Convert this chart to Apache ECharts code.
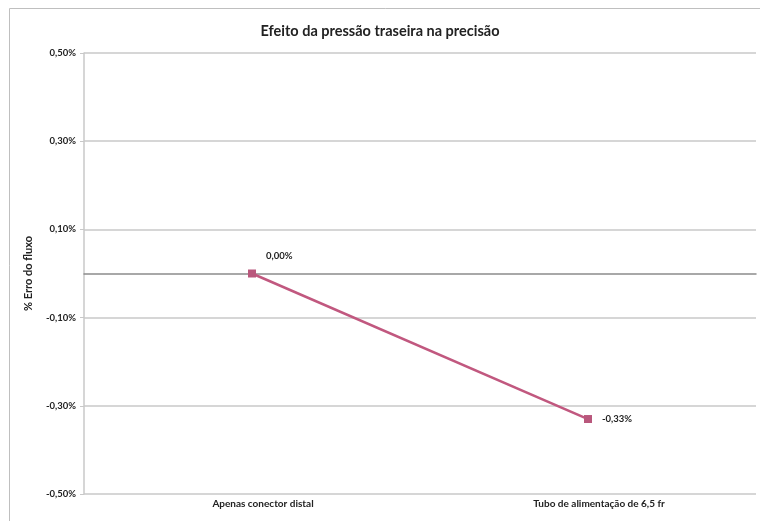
<!DOCTYPE html>
<html><head><meta charset="utf-8">
<script src="https://cdn.jsdelivr.net/npm/echarts@6/dist/echarts.min.js"></script>
<style>html,body{margin:0;padding:0;background:#fff}#c{width:760px;height:521px}</style>
</head><body><div id="c"></div>
<script>
var categories = ["Apenas conector distal", "Tubo de alimentação de 6,5 fr"];
var errorValues = [0.00, -0.33];
var yTicks = [-0.5, -0.3, -0.1, 0.1, 0.3, 0.5];

function pct(v){ return v.toFixed(2).replace('.', ',') + '%'; }

var chart = echarts.init(document.getElementById('c'));
chart.setOption({
  animation: false,
  textStyle: { fontFamily: 'Lato, "Open Sans", sans-serif' },
  graphic: [{
    type: 'rect', shape: { x: 9.5, y: 8.5, width: 780, height: 540 },
    style: { fill: 'none', stroke: '#bfbfbf', lineWidth: 1 }, silent: true
  }],
  title: {
    text: 'Efeito da pressão traseira na precisão',
    left: 'center', top: 19,
    textStyle: { fontSize: 14.5, fontWeight: 'bold', color: '#222', fontFamily: 'Lato, sans-serif' }
  },
  grid: { left: 84, right: 4, top: 53, bottom: 27, containLabel: false, outerBoundsMode: 'none' },
  xAxis: [{
    type: 'category', data: categories, boundaryGap: true,
    axisLine: { onZero: true, lineStyle: { color: '#8c8c8c', width: 1.5 } },
    axisTick: { show: false },
    axisLabel: { show: false },
    splitLine: { show: false }
  }, {
    type: 'category', data: categories, boundaryGap: true, position: 'bottom',
    axisLine: { show: false, onZero: false },
    axisTick: { show: false },
    axisLabel: {
      interval: 0, color: '#222', fontSize: 10, fontWeight: 'bold',
      margin: 5, padding: [0, 0, 0, 22]
    },
    splitLine: { show: false }
  }],
  yAxis: {
    type: 'value', min: -0.5, max: 0.5, interval: 0.2,
    name: '% Erro do fluxo', nameLocation: 'middle', nameGap: 50, nameRotate: 90,
    nameTextStyle: { fontSize: 11, fontWeight: 'bold', color: '#222' },
    axisLine: { show: true, lineStyle: { color: '#c8c8c8', width: 1.5 } },
    axisTick: { show: true, length: 4, lineStyle: { color: '#c8c8c8' } },
    axisLabel: { color: '#222', fontSize: 9.5, fontWeight: 'bold', margin: 8,
      formatter: function(v){ return pct(v); } },
    splitLine: { show: true, lineStyle: { color: '#c8c8c8', width: 1.5 } }
  },
  series: [{
    type: 'line', data: errorValues, xAxisIndex: 0,
    symbol: 'rect', symbolSize: 8,
    lineStyle: { color: '#c1587f', width: 2.5 },
    itemStyle: { color: '#b9577c' },
    label: {
      show: true, position: 'right', distance: 10, color: '#222', fontSize: 9.5, fontWeight: 'bold',
      formatter: function(p){ return pct(p.value); }
    },
    labelLayout: function(p){
      if (p.dataIndex === 0) return { dx: 0, dy: -18 };
      return { dx: 0, dy: 0 };
    }
  }]
});
</script></body></html>
